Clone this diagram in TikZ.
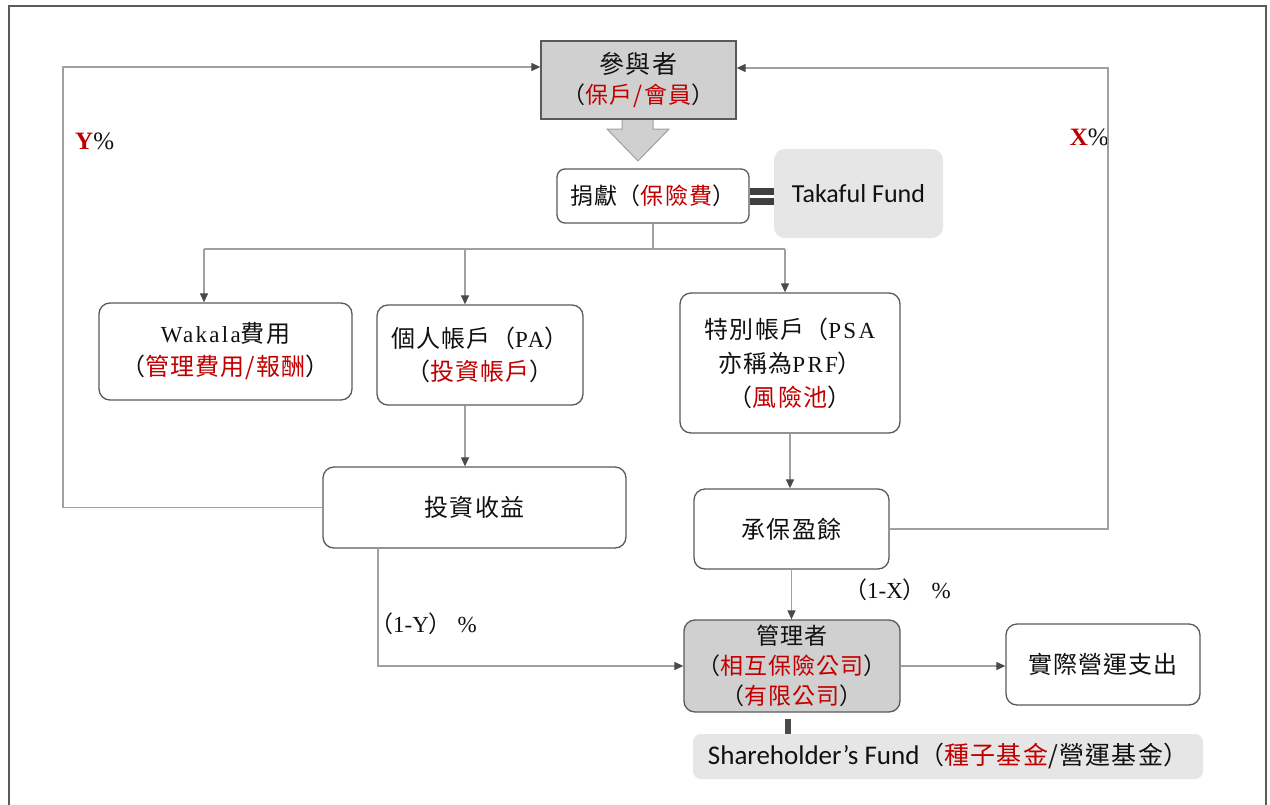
\documentclass[tikz,border=0pt]{standalone}
\usepackage{fontspec}
\setmainfont{Liberation Serif}
\newfontfamily\cjk[LetterSpace=5]{Noto Sans CJK TC}
\newfontfamily\cjkp[LetterSpace=5]{Noto Sans CJK JP}
\newfontfamily\lat[LetterSpace=10]{Liberation Serif}
\newfontfamily\calf{Carlito}
\usetikzlibrary{arrows.meta,calc}
\definecolor{tred}{HTML}{C00000}
\definecolor{bord}{HTML}{5A5A5A}
\definecolor{lnc}{HTML}{A0A0A0}
\definecolor{arc}{HTML}{4A4A4A}
\definecolor{gfill}{HTML}{D0D0D0}
\definecolor{lfill}{HTML}{E6E6E6}
\definecolor{txt}{HTML}{111111}
\newcommand\rd[1]{\textcolor{tred}{#1}}
\newcommand\lp{{\cjkp （}}
\newcommand\rp{{\cjkp ）}}
\begin{document}
\begin{tikzpicture}[x=1pt,y=-1pt,
  box/.style={draw=bord, line width=1.3pt, rounded corners=11pt, fill=white, align=center, inner sep=0pt, text=txt, font=\fontsize{24}{33}\selectfont},
  gbox/.style={box, fill=gfill},
  lbox/.style={draw=none, fill=lfill, rounded corners=11pt, inner sep=0pt, text=txt},
  conn/.style={draw=lnc, line width=1.2pt},
  arr/.style={conn, -{Triangle[length=9pt,width=8pt,color=arc]}},
  bar/.style={draw=arc!85!black, line width=7pt},
  lab/.style={inner sep=0pt, text=txt, font=\fontsize{23}{26}\selectfont}
]
\useasboundingbox (0,0) rectangle (1270,804);
\fill[white] (0,0) rectangle (1270,804);
% outer frame
\draw[draw=bord, line width=2pt] (8.5,810) -- (8.5,6) -- (1265.5,6) -- (1265.5,810);

% block arrow under top box
\filldraw[fill=gfill, draw=lnc, line width=1pt] (622,118) -- (622,129) -- (607,129) -- (638,161) -- (669,129) -- (653,129) -- (653,118);

% nodes
\node[gbox, rounded corners=0pt, minimum width=195, minimum height=78, font=\fontsize{23}{30}\selectfont] (top) at (638.5,80)
  {{\cjk\fontsize{25}{30}\selectfont 參與者}\\{\cjk \lp\rd{保戶/會員}\rp}};
\node[box, rounded corners=8pt, minimum width=192, minimum height=54, font=\fontsize{23}{28}\selectfont] (don) at (653,196)
  {{\cjk 捐獻\lp\rd{保險費}\rp}};
\node[lbox, minimum width=169, minimum height=89, font=\calf\fontsize{26}{30}\selectfont] (tak) at (858.5,193.5) {Takaful Fund};
\node[box, minimum width=253, minimum height=97] (wak) at (225.5,351.5)
  {{\lat\fontsize{23}{33}\selectfont Wakala}{\cjk 費用}\\{\cjk \lp\rd{管理費用/報酬}\rp}};
\node[box, minimum width=206, minimum height=100] (pa) at (480,355)
  {{\cjk 個人帳戶\lp}{\lat\fontsize{23}{33}\selectfont PA}{\cjk \rp}\\{\cjk \lp\rd{投資帳戶}\rp}};
\node[box, minimum width=220, minimum height=140, font=\fontsize{24}{34}\selectfont] (psa) at (790,363)
  {{\cjk 特別帳戶\lp}{\lat\fontsize{23}{34}\selectfont PSA}\\{\cjk 亦稱為}{\lat\fontsize{23}{34}\selectfont PRF}{\cjk \rp}\\{\cjk \lp\rd{風險池}\rp}};
\node[box, minimum width=303, minimum height=81] (inv) at (474.5,507.5) {{\cjk 投資收益}};
\node[box, minimum width=195, minimum height=80] (uw) at (791.5,529) {{\cjk 承保盈餘}};
\node[gbox, minimum width=216, minimum height=92, font=\fontsize{23}{30}\selectfont] (mgr) at (792,666)
  {{\cjk 管理者}\\{\cjk \lp\rd{相互保險公司}\rp}\\{\cjk \lp\rd{有限公司}\rp}};
\node[box, minimum width=194, minimum height=81] (opx) at (1103,664.5) {{\cjk 實際營運支出}};
\node[lbox, rounded corners=8pt, minimum width=510, minimum height=45, font=\fontsize{25}{28}\selectfont] (shf) at (948,756.5)
  {{\calf\fontsize{27}{28}\selectfont Shareholder’s Fund}{\cjk \lp\rd{種子基金}/營運基金\rp}};

% labels
\node[lab, anchor=west, font=\fontsize{25}{28}\selectfont] (ylab) at (75,141) {{\color{tred}\bfseries Y}\%};
\node[lab, anchor=east, font=\fontsize{25}{28}\selectfont] (xlab) at (1109,137) {{\color{tred}\bfseries X}\%};
\node[lab, anchor=west] (oy) at (370,624) {{\cjk\lp}1-Y{\cjk\rp}\ \%};
\node[lab, anchor=west] (ox) at (844,590) {{\cjk\lp}1-X{\cjk\rp}\ \%};

% coordinates
\coordinate (j) at (653,249);
\coordinate (b1) at (204,249);
\coordinate (b2) at (465,249);
\coordinate (b3) at (785,249);
\coordinate (lc) at (63,67);
\coordinate (rc) at (1108,68);
\coordinate (dy) at (378,548);
\coordinate (d1) at ([yshift=5pt]don.east);
\coordinate (d2) at ([yshift=-5.5pt]don.east);
\coordinate (mb) at ([shift={(-4pt,-6pt)}]mgr.south);

% connectors
\draw[conn] (don.south) -- (j);
\draw[conn] (b1) -- (b3);
\draw[arr] (b1) -- (b1 |- wak.north);
\draw[arr] (b2) -- (b2 |- pa.north);
\draw[arr] (b3) -- (b3 |- psa.north);
\draw[arr] (pa.south -| b2) -- (b2 |- inv.north);
\draw[arr] (psa.south) -- (psa.south |- uw.north);
\draw[arr] (uw.south) -- (uw.south |- mgr.north);
\draw[arr] (mgr.east) -- (mgr.east -| opx.west);
\draw[arr] (dy) |- (mgr.west);
\draw[arr] (inv.west) -| (lc) -- (lc -| top.west);
\draw[arr] (uw.east) -| (rc) -- (rc -| top.east);
% double bar between contribution and Takaful Fund
\draw[bar] (d1) -- (d1 -| tak.west);
\draw[bar] (d2) -- (d2 -| tak.west);
% bar between manager and shareholder's fund
\draw[draw=arc, line width=6pt] (mb) -- (mb |- shf.north);
\end{tikzpicture}
\end{document}
